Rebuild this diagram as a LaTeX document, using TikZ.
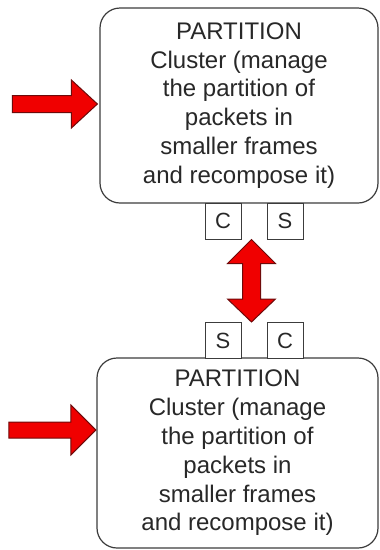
\documentclass[tikz,border=0pt]{standalone}
\usepackage{fontspec}
\setmainfont{Liberation Sans}
\usetikzlibrary{calc}
\definecolor{arrred}{RGB}{240,0,0}
\definecolor{arredge}{RGB}{110,10,10}
\definecolor{boxedge}{RGB}{60,60,60}
\definecolor{txt}{RGB}{40,40,40}
\begin{document}
\begin{tikzpicture}[x=1pt,y=-1pt,
  bigbox/.style={draw=boxedge,line width=1.2pt,rounded corners=20pt,fill=white,
    align=center,text=txt,font=\fontsize{24}{28.8}\selectfont,inner sep=0pt},
  portbox/.style={draw=boxedge,line width=1pt,fill=white,minimum width=36pt,
    minimum height=36pt,inner sep=0pt,text=txt,font=\fontsize{22}{24}\selectfont},
  blockarrow/.style={fill=arrred,draw=arredge,line width=1pt,line join=miter}]
\useasboundingbox (0,0) rectangle (380,550);
\node[bigbox,minimum width=278pt,minimum height=195pt] (top) at (239,105.5)
  {PARTITION\\Cluster (manage\\the partition of\\packets in\\smaller frames\\and recompose it)};
\node[bigbox,minimum width=281pt,minimum height=190pt] (bot) at (237.5,453)
  {PARTITION\\Cluster (manage\\the partition of\\packets in\\smaller frames\\and recompose it)};
\node[portbox] (c1) at (223,221) {C};
\node[portbox] (s1) at (285,221) {S};
\node[portbox] (s2) at (223,340.5) {S};
\node[portbox] (c2) at (285,340.5) {C};
% input arrows
\coordinate (t1) at ($(top.west)+(-2,-1.5)$);
\coordinate (t2) at ($(bot.west)+(-0.5,-23)$);
\draw[blockarrow] (t1) -- ++(-26,-24) -- ++(0,15.5) -- ++(-59,0) -- ++(0,17)
  -- ++(59,0) -- ++(0,15.5) -- cycle;
\draw[blockarrow] (t2) -- ++(-25,-25) -- ++(0,17) -- ++(-62,0) -- ++(0,16)
  -- ++(62,0) -- ++(0,17) -- cycle;
% double arrow between the port pairs
\coordinate (da) at ($(c1.south east)+(10,0)$);
\coordinate (db) at ($(s2.north east)+(10,0)$);
\draw[blockarrow] (da) -- ++(24,24) -- ++(-15,0) |- ($(db)+(9,-23)$) -- ++(15,0)
  -- (db) -- ++(-24,-23) -- ++(15,0) |- ($(da)+(-9,24)$) -- ++(-15,0) -- cycle;
\end{tikzpicture}
\end{document}
